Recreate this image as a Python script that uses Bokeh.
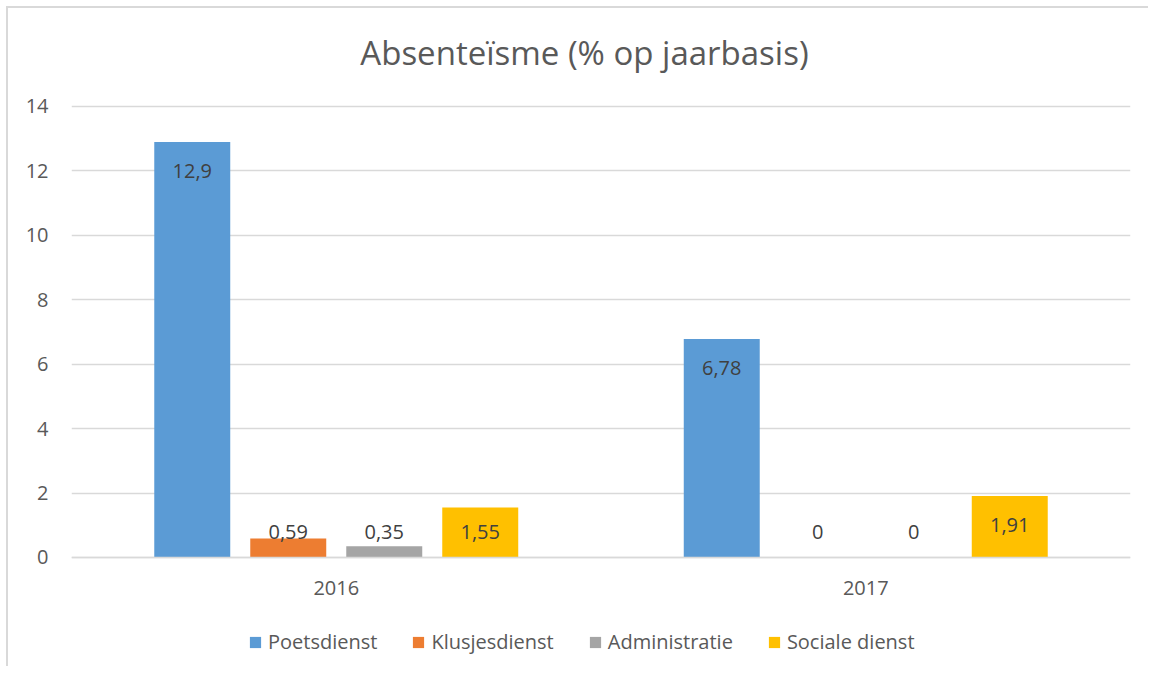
from bokeh.plotting import figure
from bokeh.models import FactorRange, Legend, LegendItem, FixedTicker, ColumnDataSource
from bokeh.transform import dodge
from bokeh.core.properties import value
from bokeh.embed import file_html
from bokeh.resources import INLINE

years = ["2016", "2017"]
series = ["Poetsdienst", "Klusjesdienst", "Administratie", "Sociale dienst"]
poetsdienst = [12.9, 6.78]
klusjesdienst = [0.59, 0.0]
administratie = [0.35, 0.0]
sociale_dienst = [1.55, 1.91]
y_ticks = [0, 2, 4, 6, 8, 10, 12, 14]
title_text = "Absenteïsme (% op jaarbasis)"

colors = ["#5B9BD5", "#ED7D31", "#A5A5A5", "#FFC000"]
FONT = "Open Sans"
TXT = "#595959"

# frame extends above 14 and below 0 so that title, axis labels and legend live inside it
p = figure(x_range=FactorRange(*years, range_padding=0), y_range=(-3.353, 17.042),
           width=1142, height=660, output_backend="svg", toolbar_location=None,
           min_border_left=63, min_border_right=20, min_border_top=0, min_border_bottom=3)
p.outline_line_color = None
p.background_fill_color = "white"
p.border_fill_color = "white"
p.title.visible = False

# chart title, centred over the chart area
tsrc = ColumnDataSource(dict(x=["2016"], y=[15.676], t=[title_text]))
p.text(x=dodge("x", 0.4688, range=p.x_range), y="y", text="t", source=tsrc,
       text_font=value(FONT), text_font_size="33px", text_color=TXT,
       text_align="center", text_baseline="middle")

pitch = 0.1813
bar_w = 0.1435
offsets = [-1.5 * pitch, -0.5 * pitch, 0.5 * pitch, 1.5 * pitch]
vals_list = [poetsdienst, klusjesdienst, administratie, sociale_dienst]

items = []
for name, vals, col, off in zip(series, vals_list, colors, offsets):
    src = ColumnDataSource(dict(
        year=years, v=vals,
        ly=[max(v - 0.9, 0.78) for v in vals],
        lbl=[f"{v:g}".replace(".", ",") for v in vals],
    ))
    r = p.vbar(x=dodge("year", off, range=p.x_range), top="v", width=bar_w, source=src,
               fill_color=col, line_color=None)
    p.text(x=dodge("year", off, range=p.x_range), y="ly", text="lbl", source=src,
           text_font=value(FONT), text_font_size="20px", text_color="#404040",
           text_align="center", text_baseline="middle")
    items.append(LegendItem(label=name, renderers=[r]))

p.yaxis.ticker = FixedTicker(ticks=y_ticks)
p.yaxis.axis_line_color = None
p.yaxis.major_tick_line_color = None
p.yaxis.minor_tick_line_color = None
p.yaxis.major_tick_out = 0
p.yaxis.major_label_standoff = 23
p.yaxis.major_label_text_font = FONT
p.yaxis.major_label_text_font_size = "20px"
p.yaxis.major_label_text_color = TXT

p.xaxis.fixed_location = 0
p.xaxis.axis_line_color = "#D9D9D9"
p.xaxis.axis_line_width = 1.5
p.xaxis.major_tick_line_color = None
p.xaxis.minor_tick_line_color = None
p.xaxis.major_tick_out = 0
p.xaxis.major_label_standoff = 24
p.xaxis.major_label_text_font = FONT
p.xaxis.major_label_text_font_size = "20px"
p.xaxis.major_label_text_color = TXT

p.xgrid.grid_line_color = None
p.ygrid.grid_line_color = "#D9D9D9"
p.ygrid.grid_line_width = 1.5

legend = Legend(items=items, orientation="horizontal", location=(177, 10),
                border_line_color=None, background_fill_alpha=0,
                glyph_width=14, glyph_height=14, label_standoff=6, spacing=34,
                label_text_font=FONT, label_text_font_size="20px", label_text_color=TXT,
                margin=0, padding=0)
p.add_layout(legend, "center")

p.styles = {"margin-left": "6px", "margin-top": "6px",
            "border-left": "2px solid #D9D9D9", "border-top": "2px solid #D9D9D9"}

open("out.html", "w").write(file_html(p, INLINE))
